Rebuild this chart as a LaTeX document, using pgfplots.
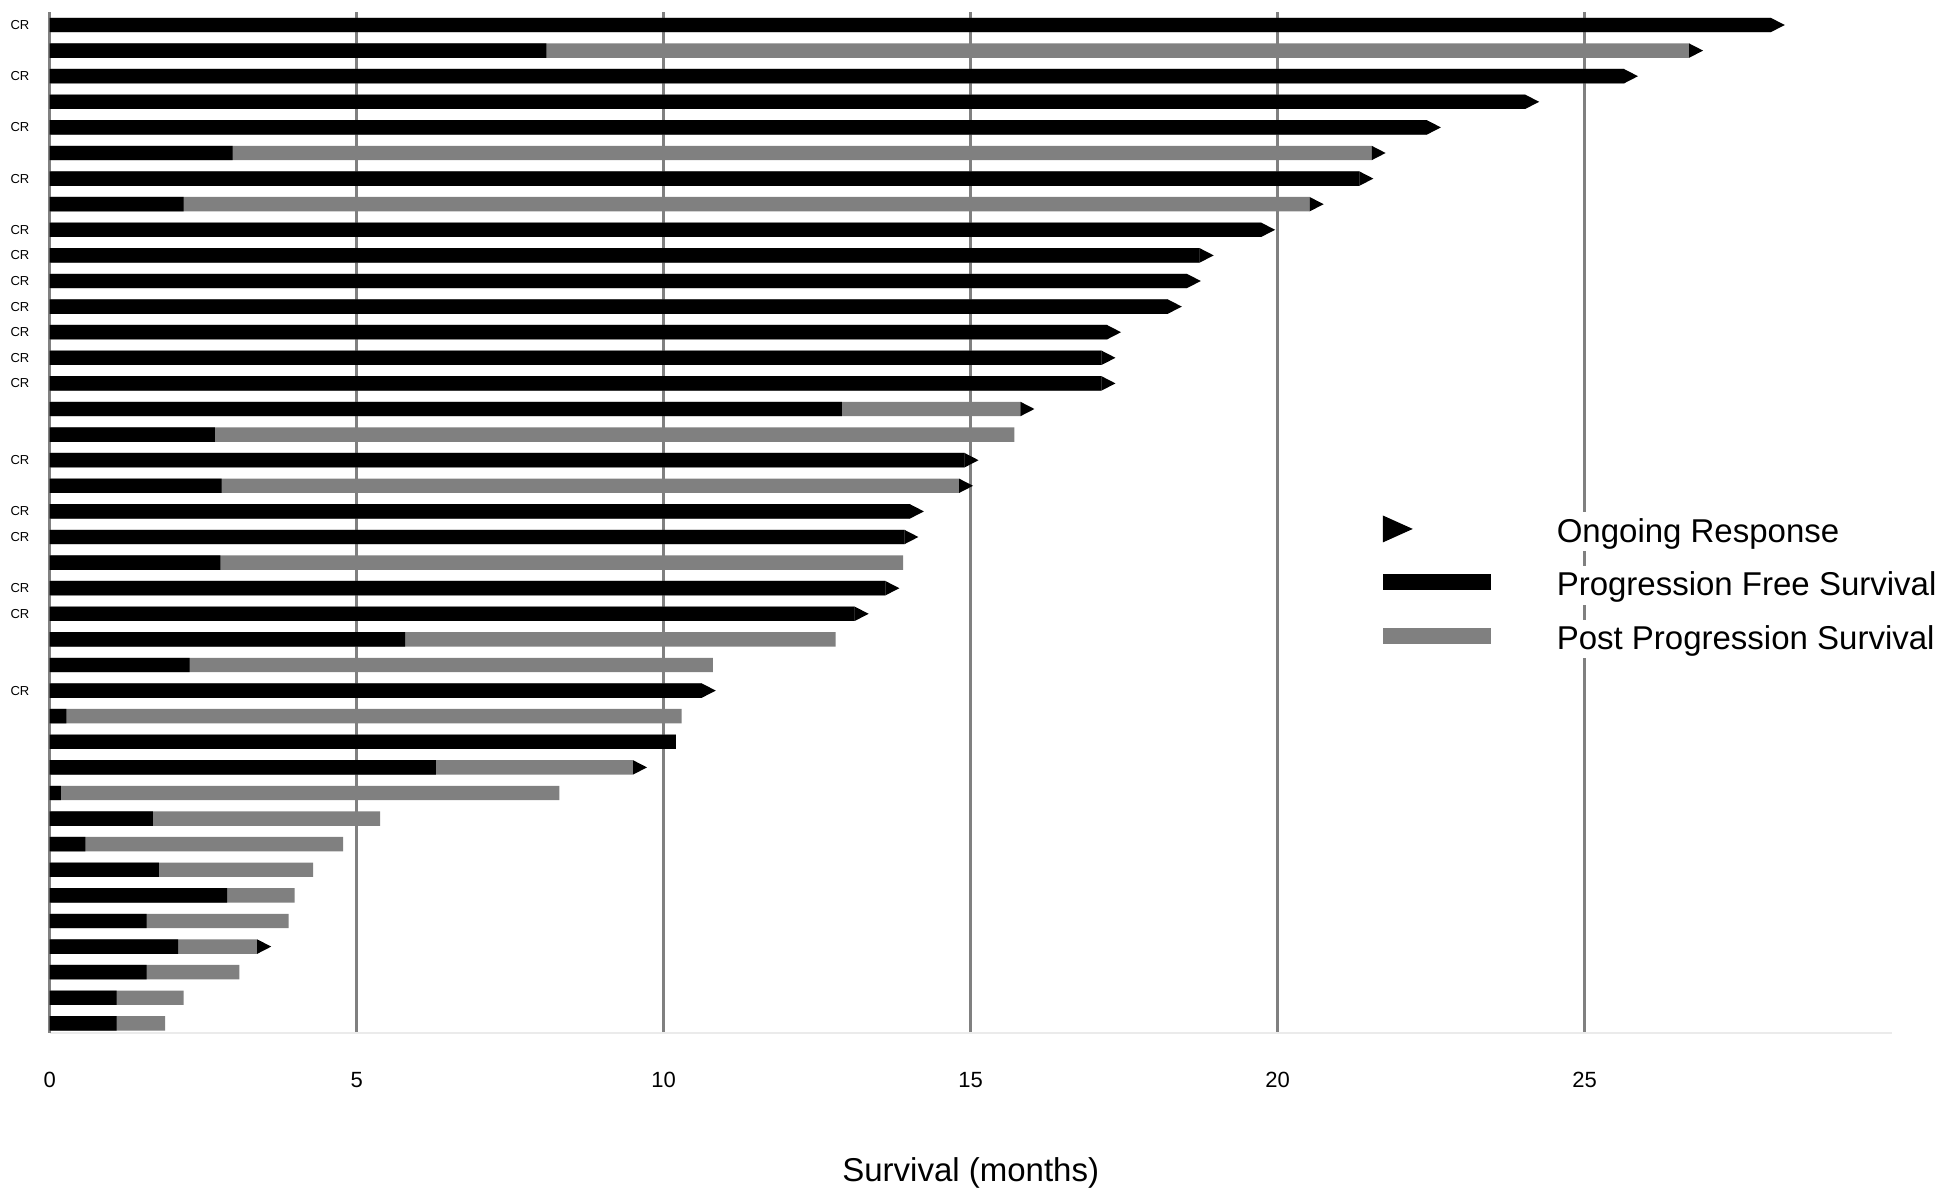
\documentclass[border=0pt]{standalone}
\usepackage{fontspec}
\setmainfont{Liberation Sans}
\usepackage{pgfplots}
\usepackage{pgfplotstable}
\pgfplotsset{compat=1.18}
\definecolor{barGray}{RGB}{128,128,128}
\definecolor{gridGray}{RGB}{128,128,128}
\pgfdeclareplotmark{arrowtip}{%
  \pgfpathmoveto{\pgfqpoint{0pt}{3.6pt}}%
  \pgfpathlineto{\pgfqpoint{7pt}{0pt}}%
  \pgfpathlineto{\pgfqpoint{0pt}{-3.6pt}}%
  \pgfpathclose
  \pgfusepathqfill}

% y = row position (40 = top), pfs = progression free survival, tot = total survival
\pgfplotstableread{
y pfs tot
40 28.03 28.03
39 8.09 26.70
38 25.64 25.64
37 24.03 24.03
36 22.43 22.43
35 2.98 21.53
34 21.33 21.33
33 2.18 20.52
32 19.73 19.73
31 18.73 18.73
30 18.52 18.52
29 18.21 18.21
28 17.22 17.22
27 17.13 17.13
26 17.13 17.13
25 12.90 15.81
24 2.69 15.71
23 14.90 14.90
22 2.80 14.81
21 14.01 14.01
20 13.92 13.92
19 2.78 13.90
18 13.61 13.61
17 13.11 13.11
16 5.79 12.80
15 2.28 10.80
14 10.62 10.62
13 0.27 10.29
12 10.20 10.20
11 6.29 9.50
10 0.18 8.30
9 1.68 5.38
8 0.58 4.78
7 1.78 4.29
6 2.89 3.99
5 1.58 3.89
4 2.09 3.38
3 1.58 3.09
2 1.09 2.18
1 1.09 1.88
}\survdata

% ongoing responses: end of bar
\pgfplotstableread{
y x
40 28.03
39 26.70
38 25.64
37 24.03
36 22.43
35 21.53
34 21.33
33 20.52
32 19.73
31 18.73
30 18.52
29 18.21
28 17.22
27 17.13
26 17.13
25 15.81
23 14.90
22 14.81
21 14.01
20 13.92
18 13.61
17 13.11
14 10.62
11 9.50
4 3.38
}\ongoing

\begin{document}
\begin{tikzpicture}
\useasboundingbox (0,0) rectangle (975pt,599.5pt);
\begin{axis}[
  at={(24.85pt,83pt)}, anchor=south west,
  scale only axis, width=921pt, height=510.65pt,
  xmin=0, xmax=30, ymin=0.625, ymax=40.52,
  enlargelimits=false,
  axis x line*=bottom, axis y line*=left,
  axis line style={-},
  x axis line style={-, draw=black!8, line width=1pt},
  y axis line style={-, draw=gridGray, line width=1.25pt},
  xtick={0,5,10,15,20,25},
  ytick={40,38,36,34,32,31,30,29,28,27,26,23,21,20,18,17,14},
  yticklabels={CR,CR,CR,CR,CR,CR,CR,CR,CR,CR,CR,CR,CR,CR,CR,CR,CR},
  major tick length=0pt,
  tick style={draw=none},
  xmajorgrids=true, ymajorgrids=false,
  major grid style={draw=gridGray, line width=1.25pt},
  /pgf/number format/assume math mode=true,
  xticklabel style={anchor=center, yshift=-23.5pt, font=\fontsize{11}{13}\selectfont},
  yticklabel style={anchor=center, xshift=-14.85pt, font=\fontsize{6.5}{7.5}\selectfont},
  xlabel={Survival (months)},
  xlabel style={at={(axis description cs:0.5,0)}, anchor=center, yshift=-70pt, font=\fontsize{16.5}{19.8}\selectfont},
  legend style={
    at={(axis description cs:0.7235,0.4382)}, anchor=west,
    draw=none, fill=none, inner sep=0pt,
    font=\fontsize{16.5}{19.8}\selectfont,
    cells={anchor=west},
    nodes={fill=white, draw=none, inner xsep=1pt, inner ysep=3pt},
    row sep=7.3pt,
  },
]
\addplot[xbar, bar width=7.2pt, bar shift=0pt, fill=barGray, draw=none, forget plot]
  table[x=tot, y=y]{\survdata};
\addplot[xbar, bar width=7.2pt, bar shift=0pt, fill=black, draw=none, forget plot]
  table[x=pfs, y=y]{\survdata};
\addplot[only marks, mark=arrowtip, color=black, forget plot]
  table[x=x, y=y]{\ongoing};

\addlegendimage{legend image code/.code={
  \path[draw=none, fill=none] (0pt,-8pt) rectangle (86pt,8pt);
  \fill[black, draw=none] (0pt,-5.25pt) -- (15pt,1.5pt) -- (0pt,8.25pt) -- cycle;}}
\addlegendentry{Ongoing Response}
\addlegendimage{legend image code/.code={
  \path[draw=none, fill=none] (0pt,-8pt) rectangle (86pt,8pt);
  \fill[black, draw=none] (0pt,-2.5pt) rectangle (54pt,5.5pt);}}
\addlegendentry{Progression Free Survival}
\addlegendimage{legend image code/.code={
  \path[draw=none, fill=none] (0pt,-8pt) rectangle (86pt,8pt);
  \fill[barGray, draw=none] (0pt,-2.5pt) rectangle (54pt,5.5pt);}}
\addlegendentry{Post Progression Survival}
\end{axis}
\end{tikzpicture}
\end{document}
